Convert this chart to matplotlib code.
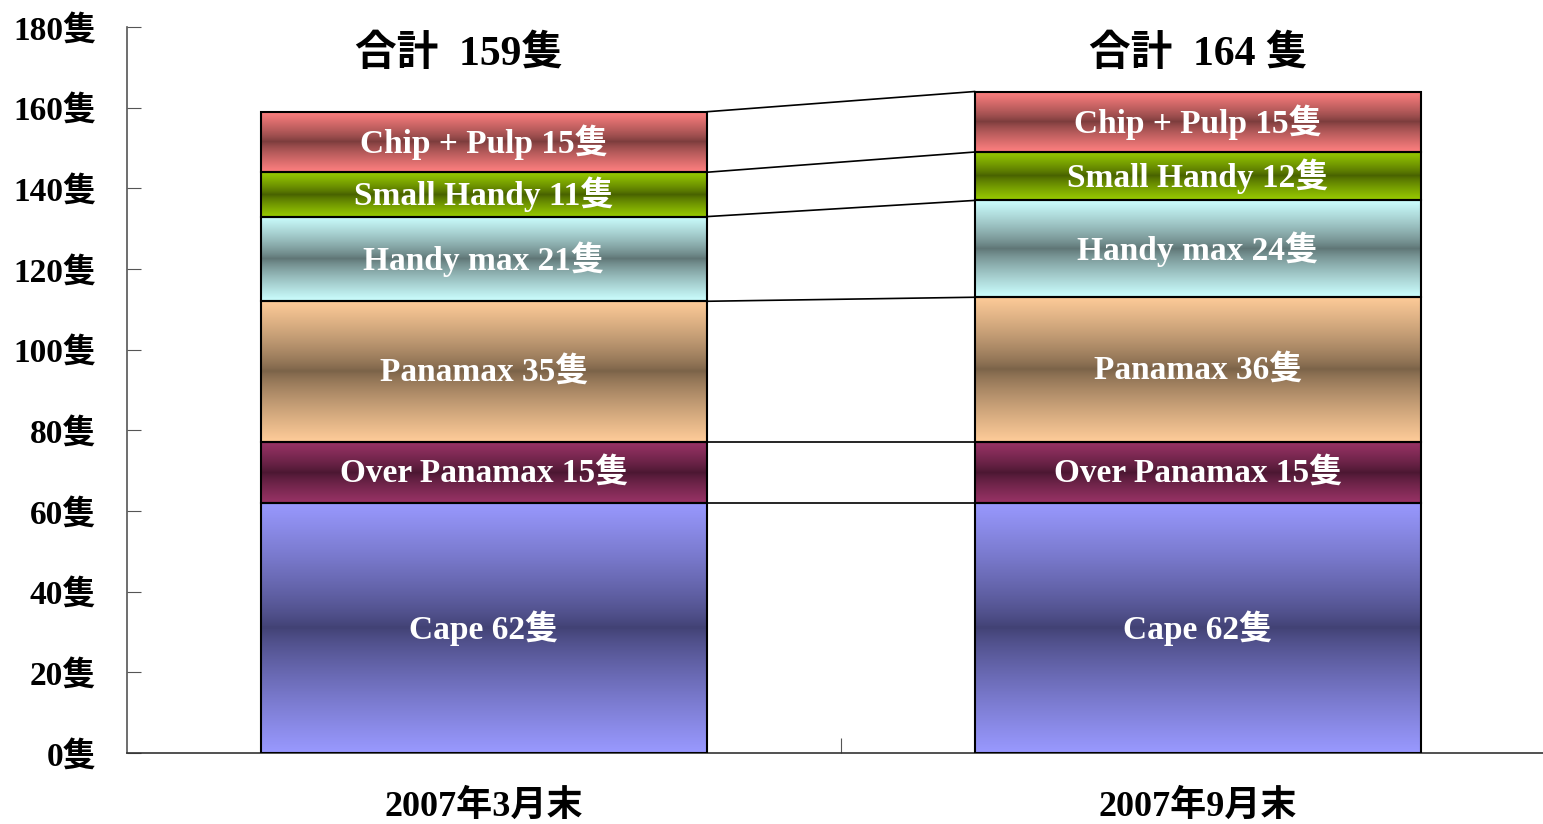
import numpy as np
import matplotlib
matplotlib.use("Agg")
import matplotlib.pyplot as plt
from matplotlib.colors import to_rgb

# data
periods = ["2007年3月末", "2007年9月末"]
segments = ["Cape", "Over Panamax", "Panamax", "Handy max", "Small Handy", "Chip + Pulp"]
counts_mar = [62, 15, 35, 21, 11, 15]
counts_sep = [62, 15, 36, 24, 12, 15]
totals = [159, 164]
total_labels = ["合計  159隻", "合計  164 隻"]
yticks = list(range(0, 181, 20))

light_colors = ["#9999FF", "#993366", "#FFCC99", "#CCFFFF", "#99CC00", "#FF8080"]
dark_colors = ["#414173", "#4A1731", "#7A6248", "#5E7474", "#476000", "#7A3C3C"]

serif = ["Liberation Serif", "Noto Sans CJK JP"]
plt.rcParams["font.family"] = serif

fig = plt.figure(figsize=(15.43, 8.24), dpi=100)
ax = fig.add_axes([127 / 1543, 71 / 824, 1428 / 1543, 726 / 824])

bar_w = 0.626
xs = [0, 1]


def gradient(light, dark, n=200):
    lt = np.array(to_rgb(light))
    dk = np.array(to_rgb(dark))
    s = np.linspace(0, 1, n)
    t = np.abs(2 * s - 1) ** 0.8
    rgb = dk[None, :] + (lt - dk)[None, :] * t[:, None]
    return rgb[:, None, :]


all_counts = [counts_mar, counts_sep]
tops = []
for xi, counts in zip(xs, all_counts):
    base = 0
    bounds = [0]
    for k, v in enumerate(counts):
        x0, x1 = xi - bar_w / 2, xi + bar_w / 2
        ax.imshow(gradient(light_colors[k], dark_colors[k]), extent=[x0, x1, base, base + v],
                  aspect="auto", interpolation="bilinear", zorder=2)
        ax.add_patch(plt.Rectangle((x0, base), bar_w, v, fill=False, edgecolor="black",
                                   linewidth=1.5, zorder=3))
        ax.text(xi, base + v / 2, f"{segments[k]} {v}隻", ha="center", va="center",
                color="white", fontsize=24, fontweight="bold", family=serif, zorder=4)
        base += v
        bounds.append(base)
    tops.append(bounds)

# connector lines
for b0, b1 in zip(tops[0][1:], tops[1][1:]):
    ax.plot([xs[0] + bar_w / 2, xs[1] - bar_w / 2], [b0, b1], color="black", linewidth=1.2, zorder=1)

# totals
for xi, lab, off in zip(xs, total_labels, [-0.035, 0]):
    ax.text(xi + off, 173.2, lab, ha="center", va="center", fontsize=30, fontweight="bold",
            family=serif, color="black")

ax.set_xlim(-0.5, 1.5)
ax.set_ylim(0, 180)
ax.set_yticks(yticks)
ax.set_yticklabels([f"{v}隻" for v in yticks], fontsize=24, fontweight="bold")
ax.tick_params(axis="y", direction="in", length=10, pad=22, color="#555555")
ax.set_xticks([0.5])
ax.set_xticklabels([""])
ax.tick_params(axis="x", direction="in", length=11, color="#555555")
for xi, p in zip(xs, periods):
    ax.text(xi, -13.3, p, ha="center", va="center", fontsize=26, fontweight="bold", family=serif)

for side in ["top", "right"]:
    ax.spines[side].set_visible(False)
ax.spines["left"].set_color("#555555")
ax.spines["bottom"].set_color("#333333")
ax.spines["left"].set_linewidth(1.2)
ax.spines["bottom"].set_linewidth(1.2)

fig.savefig("out.png", dpi=100)
